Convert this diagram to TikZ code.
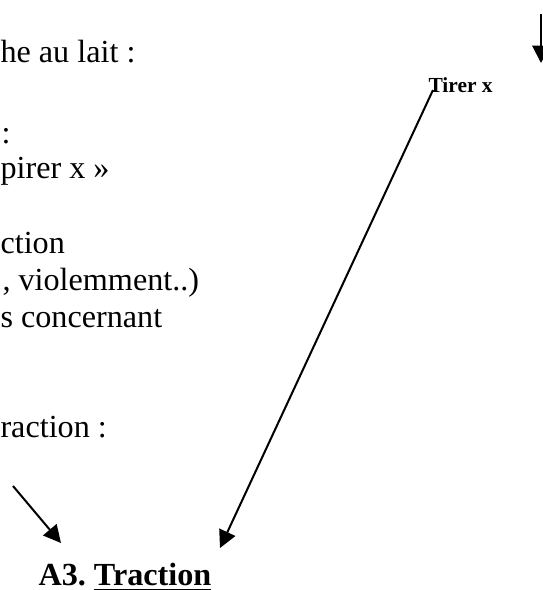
\documentclass[tikz,border=0pt]{standalone}
\usepackage{fontspec}
\setmainfont{Liberation Serif}
\usetikzlibrary{arrows.meta}

\begin{document}
\begin{tikzpicture}[x=0.373pt,y=-0.373pt]
\tikzset{ligne/.style={anchor=base west, inner sep=0pt, font=\fontsize{12}{14}\selectfont},
  titre/.style={anchor=base west, inner sep=0pt, font=\bfseries\fontsize{12}{14}\selectfont},
  fleche/.style={line width=0.75pt, -{Triangle[length=6.5pt,width=6.5pt]}}}
\clip (0,0) rectangle (543,590);
\node[ligne] (L1) at (0,62) {he au lait :};
\node[ligne] (L2) at (1,143) {:};
\node[ligne] (L3) at (0,178) {pirer x »};
\node[ligne] (L4) at (0,253) {ction};
\node[ligne] (L5) at (2,290) {, violemment..)};
\node[ligne] (L6) at (0,327) {s concernant};
\node[ligne] (L7) at (0,437) {raction :};
\node[titre] (A3) at (38,585) {\frenchspacing A3. \underline{Traction}};
\node[titre, font=\bfseries\fontsize{8}{9.6}\selectfont] (tirer) at (428,92) {Tirer x};
\coordinate (bout) at (220,548);
\coordinate (p1) at (13,486);
\coordinate (p2) at (61,543);
\coordinate (h1) at (541,14);
\coordinate (h2) at (541,63);
\draw[fleche] ([shift={(5,-2)}]tirer.base west) -- (bout);
\draw[fleche] (p1) -- (p2);
\draw[fleche] (h1) -- (h2);
\end{tikzpicture}
\end{document}
